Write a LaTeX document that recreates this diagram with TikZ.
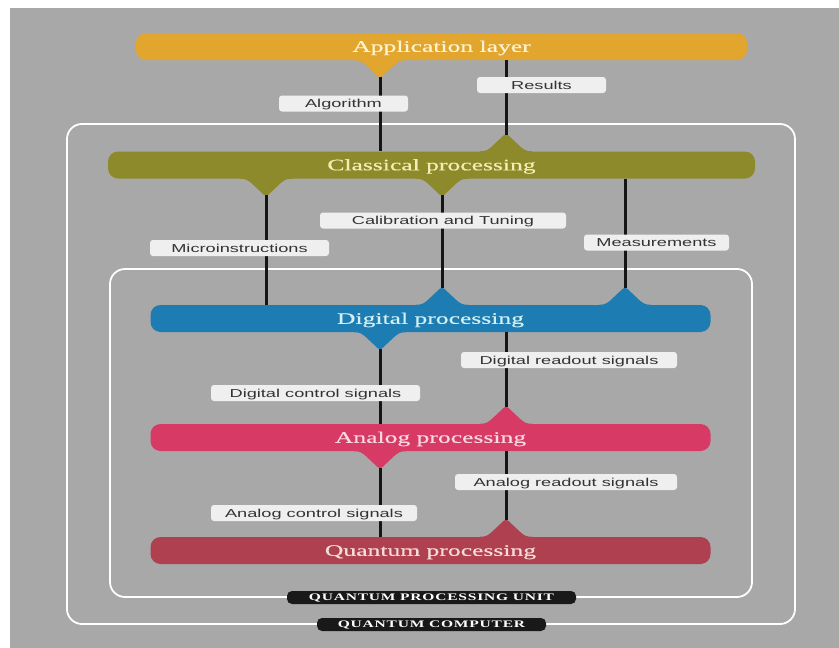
\documentclass[tikz,border=0pt]{standalone}
\usepackage{fontspec}
\newfontfamily\barfont{Liberation Serif}[FakeStretch=1.6,FakeBold=0.5]
\newfontfamily\tagfont{Liberation Sans}[FakeStretch=1.58]
\newfontfamily\capfont{Liberation Serif}[FakeStretch=1.55,LetterSpace=8]
\usetikzlibrary{calc}

\definecolor{bgc}{HTML}{A8A8A8}
\definecolor{appc}{HTML}{E2A62E}
\definecolor{apptx}{HTML}{FFF3D2}
\definecolor{clsc}{HTML}{8D8A2C}
\definecolor{clstx}{HTML}{F2EDB2}
\definecolor{digc}{HTML}{1D7DB3}
\definecolor{digtx}{HTML}{D3F0F4}
\definecolor{anac}{HTML}{D83A66}
\definecolor{anatx}{HTML}{F9D8DF}
\definecolor{qpuc}{HTML}{AF404F}
\definecolor{qputx}{HTML}{F6DCD8}
\definecolor{tagbg}{HTML}{EFEFEF}
\definecolor{tagtx}{HTML}{333333}
\definecolor{wirec}{HTML}{151515}

\tikzset{
  bar/.style={rounded corners=10pt, minimum height=27pt, inner sep=0pt,
    font=\barfont\fontsize{16}{18}\selectfont, text height=10.6pt, text depth=0pt},
  tag/.style={fill=tagbg, rounded corners=3pt, minimum height=16pt, inner sep=0pt,
    text=tagtx, font=\tagfont\fontsize{11.5}{13}\selectfont, text height=8.2pt, text depth=0pt},
  wire/.style={line width=3pt, draw=wirec},
  frame/.style={draw=white, line width=1.8pt, rounded corners=15pt},
  unitlabel/.style={fill=black!90, rounded corners=5pt, text=white,
    font=\capfont\bfseries\fontsize{10}{12}\selectfont, minimum height=13pt, inner sep=0pt,
    text height=6.7pt, text depth=0pt},
  % tapered bump where a signal leaves or enters a layer bar
  pics/bump/.style 2 args={code={
    \begin{scope}[yscale=#2]
      \fill[#1] (-26,-2) -- (-26,0) .. controls (-20,0) and (-18,1.5) .. (-14,5)
        -- (-2.5,15.8) .. controls (0,17.6) .. (2.5,15.8)
        -- (14,5) .. controls (18,1.5) and (20,0) .. (26,0) -- (26,-2) -- cycle;
      \coordinate (-tip) at (0,16.5);
    \end{scope}}}
}

\begin{document}
\begin{tikzpicture}[x=1pt,y=-1pt]
\useasboundingbox (0,0) rectangle (839,648);
\fill[white] (0,0) rectangle (839,648);
\fill[bgc] (10,8) rectangle (839,648);

% enclosing frames
\draw[frame] (67,124) rectangle (795,624);
\draw[frame] (110,269) rectangle (752,597);

% columns of the signal lines
\coordinate (xm) at (266,0);
\coordinate (xa) at (380,0);
\coordinate (xc) at (442,0);
\coordinate (xr) at (506,0);
\coordinate (xs) at (625,0);

% layer bars
\node[bar, fill=appc, text=apptx, minimum width=611pt] (app) at (441.5,46.5) {Application layer};
\node[bar, fill=clsc, text=clstx, minimum width=647pt] (cls) at (431.5,165) {Classical processing};
\node[bar, fill=digc, text=digtx, minimum width=560pt] (dig) at (430.5,318.5) {Digital processing};
\node[bar, fill=anac, text=anatx, minimum width=560pt] (ana) at (430.5,437.5) {Analog processing};
\node[bar, fill=qpuc, text=qputx, minimum width=560pt] (qpu) at (430.5,550.5) {Quantum processing};

% bumps on the bars
\pic (b1) at (app.south -| xa) {bump={appc}{1}};
\pic (b2) at (cls.north -| xr) {bump={clsc}{-1}};
\pic (b3) at (cls.south -| xm) {bump={clsc}{1}};
\pic (b4) at (cls.south -| xc) {bump={clsc}{1}};
\pic (b5) at (dig.north -| xc) {bump={digc}{-1}};
\pic (b6) at (dig.north -| xs) {bump={digc}{-1}};
\pic (b7) at (dig.south -| xa) {bump={digc}{1}};
\pic (b8) at (ana.north -| xr) {bump={anac}{-1}};
\pic (b9) at (ana.south -| xa) {bump={anac}{1}};
\pic (b10) at (qpu.north -| xr) {bump={qpuc}{-1}};

% signal lines
\draw[wire] (b1-tip) -- (cls.north -| xa);
\draw[wire] (b2-tip) -- (app.south -| xr);
\draw[wire] (b3-tip) -- (dig.north -| xm);
\draw[wire] (b4-tip) -- (b5-tip);
\draw[wire] (b6-tip) -- (cls.south -| xs);
\draw[wire] (b7-tip) -- (ana.north -| xa);
\draw[wire] (b8-tip) -- (dig.south -| xr);
\draw[wire] (b9-tip) -- (qpu.north -| xa);
\draw[wire] (b10-tip) -- (ana.south -| xr);

% signal labels
\node[tag, minimum width=129pt] (l1) at (343.5,103.5) {Algorithm};
\node[tag, minimum width=129pt] (l2) at (541.5,85) {Results};
\node[tag, minimum width=246pt] (l3) at (443,220.5) {Calibration and Tuning};
\node[tag, minimum width=179pt] (l4) at (239.5,248) {Microinstructions};
\node[tag, minimum width=145pt] (l5) at (656.5,242.5) {Measurements};
\node[tag, minimum width=216pt] (l6) at (569,360) {Digital readout signals};
\node[tag, minimum width=209pt] (l7) at (315.5,393) {Digital control signals};
\node[tag, minimum width=222pt] (l8) at (566,482) {Analog readout signals};
\node[tag, minimum width=206pt] (l9) at (314,513) {Analog control signals};

% frame captions
\node[unitlabel, minimum width=289pt] (u1) at (431.5,597.5) {QUANTUM PROCESSING UNIT};
\node[unitlabel, minimum width=229pt] (u2) at (431.5,624.5) {QUANTUM COMPUTER};
\end{tikzpicture}
\end{document}
